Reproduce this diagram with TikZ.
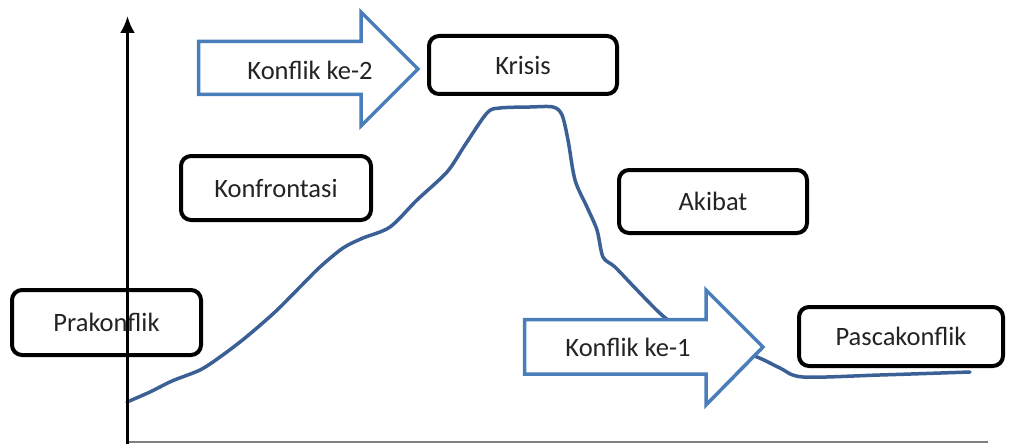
\documentclass[tikz,border=0pt]{standalone}
\usepackage{fontspec}
\setmainfont{Carlito}
\usetikzlibrary{arrows.meta}
\definecolor{arrowblue}{RGB}{74,126,187}
\definecolor{curveblue}{RGB}{58,96,150}
\definecolor{txt}{RGB}{35,35,35}
\tikzset{
  stagebox/.style={draw=black, line width=4pt, rounded corners=10pt, fill=white,
    inner sep=0pt, font=\fontsize{26.5}{30}\selectfont, text=txt},
  blockarrow/.style={draw=arrowblue, line width=3.5pt, fill=white, line join=miter},
  arrowtext/.style={inner sep=0pt, font=\fontsize{26.5}{30}\selectfont, text=txt},
}
\begin{document}
\begin{tikzpicture}[x=1pt,y=-1pt]
\useasboundingbox (0,0) rectangle (1010,444);
% curve
\draw[curveblue, line width=3.5pt, line cap=round, line join=round]
  plot[smooth, tension=0.5] coordinates {(127,402) (150,392) (172,381) (200,370) (220,357) (245,338) (275,312) (300,287) (320,267) (343,248) (363,238) (390,227) (417,200) (447,172) (465,145) (487,113) (500,108) (530,107) (553,107) (562,115) (568,140) (575,180) (587,207) (597,230) (603,257) (615,267) (637,290) (663,316) (690,335) (720,345) (757,357) (780,368) (803,377) (880,375) (970,372)};
% boxes
\node[stagebox, minimum width=189pt, minimum height=65pt] (pra) at (106.5,322.5) {Prakonflik};
\node[stagebox, minimum width=190pt, minimum height=64pt] (konf) at (276,188) {Konfrontasi};
\node[stagebox, minimum width=188pt, minimum height=58pt] (krisis) at (523,65) {Krisis};
\node[stagebox, minimum width=188pt, minimum height=63pt] (akibat) at (713,201.5) {Akibat};
\node[stagebox, minimum width=204pt, minimum height=59pt] (pasca) at (901,336.5) {Pascakonflik};
% block arrows
\draw[blockarrow] (198.5,41.5) -- (361,41.5) -- (361,12) -- (418,69) -- (361,126) -- (361,94.5) -- (198.5,94.5) -- cycle;
\node[arrowtext] (k2) at (310,70) {Konflik ke-2};
\draw[blockarrow] (524.5,319.5) -- (706,319.5) -- (706,290) -- (763,347) -- (706,405) -- (706,374) -- (524.5,374) -- cycle;
\node[arrowtext] (k1) at (628,347) {Konflik ke-1};
% axes
\coordinate (origin) at (127.5,442);
\coordinate (ytop) at (127.5,16);
\coordinate (xend) at (988,442);
\draw[gray, line width=2pt] (origin) -- (xend);
\draw[black, line width=3pt, -{Latex[length=17pt,width=15pt]}] (127.5,444) -- (ytop);
\end{tikzpicture}
\end{document}
